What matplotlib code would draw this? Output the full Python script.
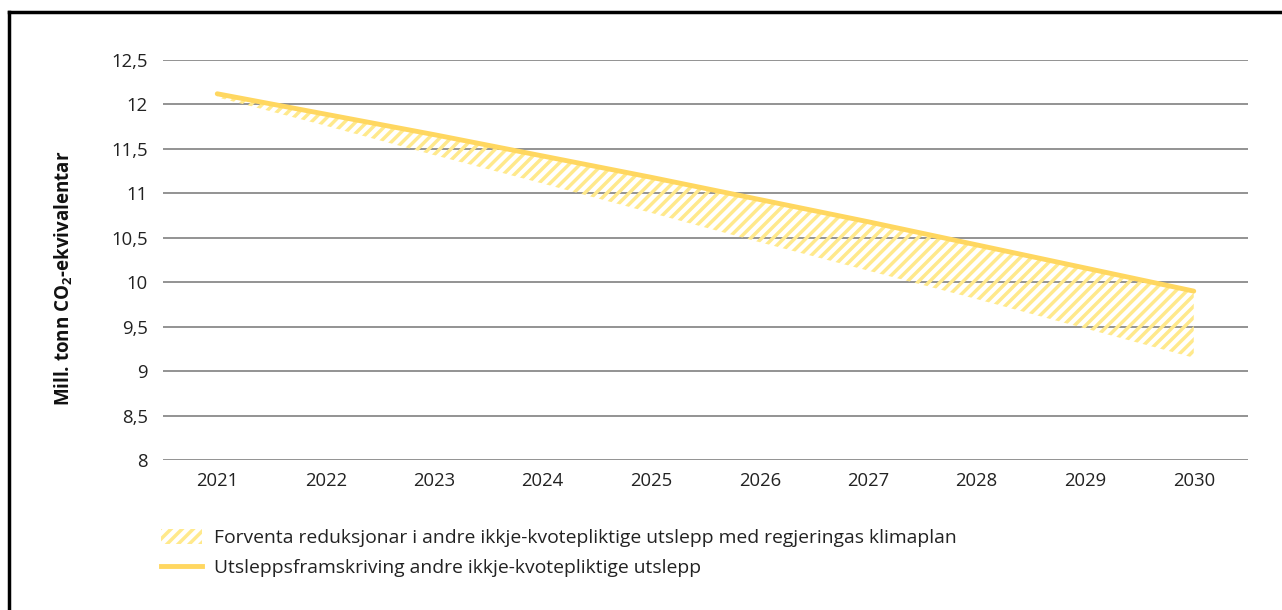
import matplotlib
matplotlib.use("Agg")
import matplotlib.pyplot as plt
from matplotlib.lines import Line2D
from matplotlib.patches import Patch

plt.rcParams['font.family'] = ['Open Sans', 'DejaVu Sans']
plt.rcParams['mathtext.fontset'] = 'custom'
plt.rcParams['mathtext.bf'] = 'Open Sans:bold'
plt.rcParams['hatch.linewidth'] = 2.5
plt.rcParams['hatch.color'] = '#ffe98c'

years = ['2021', '2022', '2023', '2024', '2025', '2026', '2027', '2028', '2029', '2030']
framskriving = [12.12, 11.89, 11.66, 11.42, 11.18, 10.93, 10.68, 10.42, 10.16, 9.90]
med_klimaplan = [12.08, 11.76, 11.43, 11.11, 10.78, 10.45, 10.13, 9.81, 9.48, 9.15]
yticks = [8, 8.5, 9, 9.5, 10, 10.5, 11, 11.5, 12, 12.5]
ylabels = ['8', '8,5', '9', '9,5', '10', '10,5', '11', '11,5', '12', '12,5']

line_col = '#ffd760'
hatch_col = '#ffe98c'
grid_col = '#8a8a8a'

fig = plt.figure(figsize=(12.82, 6.10), dpi=100)
ax = fig.add_axes([163 / 1282, 1 - 460 / 610, (1248 - 163) / 1282, 400 / 610])

x = range(len(years))
for t in yticks:
    ax.axhline(t, color=grid_col, lw=1.3, zorder=1)

ax.fill_between(x, med_klimaplan, framskriving, facecolor='none', edgecolor=hatch_col,
                hatch='///', linewidth=0, zorder=2)
ax.plot(x, framskriving, color=line_col, lw=3.5, solid_capstyle='round', zorder=3)

ax.set_xlim(-0.5, len(years) - 0.5)
ax.set_ylim(8, 12.5)
ax.set_xticks(list(x))
ax.set_xticklabels(years, fontsize=13.3, color='#222222')
ax.set_yticks(yticks)
ax.set_yticklabels(ylabels, fontsize=13.3, color='#222222')
ax.tick_params(axis='both', length=0)
ax.tick_params(axis='x', pad=9)
ax.tick_params(axis='y', pad=11)
for s in ax.spines.values():
    s.set_visible(False)

fig.text(64 / 1282, 1 - 278 / 610, r'Mill. tonn CO$_\mathbf{2}$-ekvivalentar', rotation=90,
         ha='center', va='center', fontsize=13.5, fontweight='bold', color='#111111')

handles = [Patch(facecolor='none', edgecolor=hatch_col, hatch='///', linewidth=0),
           Line2D([0], [0], color=line_col, lw=3.5)]
labels = ['Forventa reduksjonar i andre ikkje-kvotepliktige utslepp med regjeringas klimaplan',
          'Utsleppsframskriving andre ikkje-kvotepliktige utslepp']
fig.legend(handles, labels, loc='upper left', bbox_to_anchor=(144 / 1282, 1 - 512 / 610),
           frameon=False, fontsize=13.9, handlelength=2.1, handleheight=0.8,
           labelspacing=0.6, handletextpad=0.65, labelcolor='#222222')

# frame around the figure (left and top only)
fig.add_artist(Line2D([9 / 1282, 9 / 1282], [0, 1 - 12 / 610], color='black', lw=2.5,
                      transform=fig.transFigure))
fig.add_artist(Line2D([9 / 1282, 1], [1 - 12 / 610, 1 - 12 / 610], color='black', lw=2.5,
                      transform=fig.transFigure))

fig.savefig('out.png', dpi=100)
